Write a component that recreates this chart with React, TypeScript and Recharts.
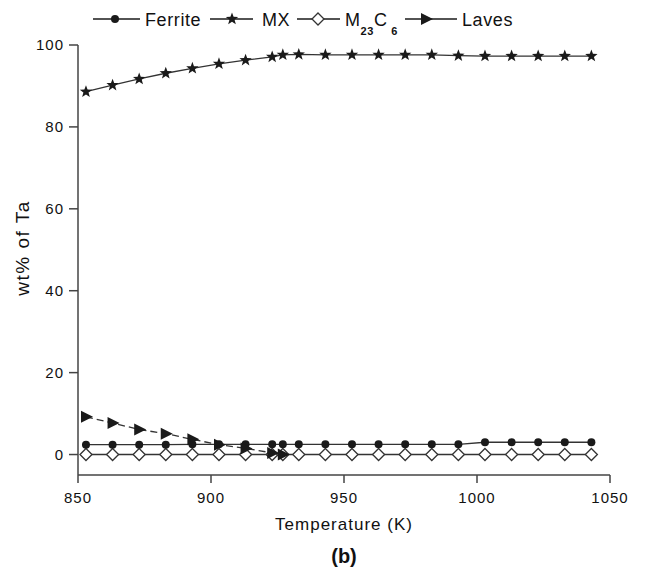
import { LineChart, Line, XAxis, YAxis } from "recharts"

const temperature = [853, 863, 873, 883, 893, 903, 913, 923, 927, 933, 943, 953, 963, 973, 983, 993, 1003, 1013, 1023, 1033, 1043]
const ferrite = [2.4, 2.4, 2.4, 2.4, 2.5, 2.5, 2.5, 2.5, 2.5, 2.5, 2.5, 2.5, 2.5, 2.5, 2.5, 2.5, 3.0, 3.0, 3.0, 3.0, 3.0]
const mx = [88.6, 90.2, 91.7, 93.1, 94.3, 95.4, 96.3, 97.1, 97.6, 97.7, 97.6, 97.6, 97.6, 97.6, 97.6, 97.4, 97.3, 97.3, 97.3, 97.3, 97.3]
const m23c6 = [0, 0, 0, 0, 0, 0, 0, 0, 0, 0, 0, 0, 0, 0, 0, 0, 0, 0, 0, 0, 0]
const laves = [9.2, 7.7, 6.1, 5.1, 3.7, 2.4, 1.5, 0.4, 0, null, null, null, null, null, null, null, null, null, null, null, null]

const xTicks = [850, 900, 950, 1000, 1050]
const yTicks = [0, 20, 40, 60, 80, 100]

const data = temperature.map((t, i) => ({
  t,
  ferrite: ferrite[i],
  mx: mx[i],
  m23c6: m23c6[i],
  laves: laves[i],
}))

const ink = "#1a1a1a"
const axisColor = "#444"
const font = "'Liberation Sans', Arial, sans-serif"

const starPoints = (cx: number, cy: number, R = 6.5, r = 2.7) => {
  const pts: string[] = []
  for (let k = 0; k < 10; k++) {
    const rad = k % 2 === 0 ? R : r
    const a = -Math.PI / 2 + (k * Math.PI) / 5
    pts.push(`${cx + rad * Math.cos(a)},${cy + rad * Math.sin(a)}`)
  }
  return pts.join(" ")
}

const ferriteDot = (p: any) =>
  p.cy == null ? <g key={p.index} /> : <circle key={p.index} cx={p.cx} cy={p.cy} r={4} fill={ink} />

const mxDot = (p: any) =>
  p.cy == null ? <g key={p.index} /> : <polygon key={p.index} points={starPoints(p.cx, p.cy)} fill={ink} />

const m23Dot = (p: any) =>
  p.cy == null ? (
    <g key={p.index} />
  ) : (
    <polygon
      key={p.index}
      points={`${p.cx},${p.cy - 6} ${p.cx + 6},${p.cy} ${p.cx},${p.cy + 6} ${p.cx - 6},${p.cy}`}
      fill="#fff"
      stroke="#333"
      strokeWidth={1.3}
    />
  )

const lavesDot = (p: any) =>
  p.cy == null ? (
    <g key={p.index} />
  ) : (
    <polygon
      key={p.index}
      points={`${p.cx - 5},${p.cy - 6} ${p.cx + 7},${p.cy} ${p.cx - 5},${p.cy + 6}`}
      fill={ink}
    />
  )

function LegendRow() {
  const y = 19
  const line = (x1: number, x2: number) => <line x1={x1} x2={x2} y1={y} y2={y} stroke={ink} strokeWidth={1.5} />
  return (
    <svg width={650} height={45} style={{ position: "absolute", left: 0, top: 0 }}>
      <g fontFamily={font} fontSize={18} fill="#111" letterSpacing={0.6}>
        {line(93, 140)}
        <circle cx={115} cy={y} r={4} fill={ink} />
        <text x={145} y={26}>Ferrite</text>
        {line(210, 253)}
        <polygon points={starPoints(232, y)} fill={ink} />
        <text x={262} y={26}>MX</text>
        {line(297, 340)}
        <polygon points={`318,${y - 6} 324,${y} 318,${y + 6} 312,${y}`} fill="#fff" stroke="#333" strokeWidth={1.3} />
        <text x={345} y={26}>
          M
          <tspan dy={9} fontSize={11} fontWeight="bold">23</tspan>
          <tspan dy={-9} fontSize={18}>C</tspan>
          <tspan dy={9} fontSize={11} fontWeight="bold"> 6</tspan>
        </text>
        {line(405, 457)}
        <polygon points={`421,${y - 6} 433,${y} 421,${y + 6}`} fill={ink} />
        <text x={462} y={26}>Laves</text>
      </g>
    </svg>
  )
}

export default function App() {
  return (
    <div style={{ position: "absolute", left: 0, top: 0, width: 650, height: 576, background: "#fff" }}>
      <LineChart width={650} height={576} data={data} margin={{ top: 45, right: 40, bottom: 0, left: 0 }}>
        <XAxis
          type="number"
          dataKey="t"
          domain={[850, 1050]}
          ticks={xTicks}
          height={101}
          tickSize={8}
          tickMargin={9}
          stroke={axisColor}
          strokeWidth={1.5}
          tick={{ fontSize: 15, fill: "#111", fontFamily: font, letterSpacing: 1 }}
          label={{
            content: (props: any) => {
              const vb = props.viewBox
              const cx = vb.x + vb.width / 2
              return (
                <g fontFamily={font} fill="#111">
                  <text x={cx} y={vb.y + 55} textAnchor="middle" fontSize={17} letterSpacing={1}>
                    Temperature (K)
                  </text>
                  <text x={cx} y={vb.y + 88} textAnchor="middle" fontSize={20} fontWeight="bold">
                    (b)
                  </text>
                </g>
              )
            },
          }}
        />
        <YAxis
          type="number"
          domain={[-5, 100]}
          ticks={yTicks}
          width={78}
          tickSize={9}
          tickMargin={5}
          stroke={axisColor}
          strokeWidth={1.5}
          tick={{ fontSize: 15, fill: "#111", fontFamily: font, letterSpacing: 1 }}
          label={{
            content: (props: any) => {
              const vb = props.viewBox
              const cy = vb.y + vb.height / 2 - 12
              return (
                <text
                  x={29}
                  y={cy}
                  transform={`rotate(-90 29 ${cy})`}
                  textAnchor="middle"
                  fontFamily={font}
                  fontSize={19}
                  letterSpacing={1.5}
                  fill="#111"
                >
                  wt% of Ta
                </text>
              )
            },
          }}
        />
        <Line dataKey="m23c6" stroke="#333" strokeWidth={1.3} dot={m23Dot} isAnimationActive={false} />
        <Line dataKey="ferrite" stroke="#333" strokeWidth={1.3} dot={ferriteDot} isAnimationActive={false} />
        <Line
          dataKey="laves"
          stroke="#333"
          strokeWidth={1.3}
          strokeDasharray="7 4"
          dot={lavesDot}
          connectNulls={false}
          isAnimationActive={false}
        />
        <Line dataKey="mx" stroke="#333" strokeWidth={1.3} dot={mxDot} isAnimationActive={false} />
      </LineChart>
      <LegendRow />
    </div>
  )
}
